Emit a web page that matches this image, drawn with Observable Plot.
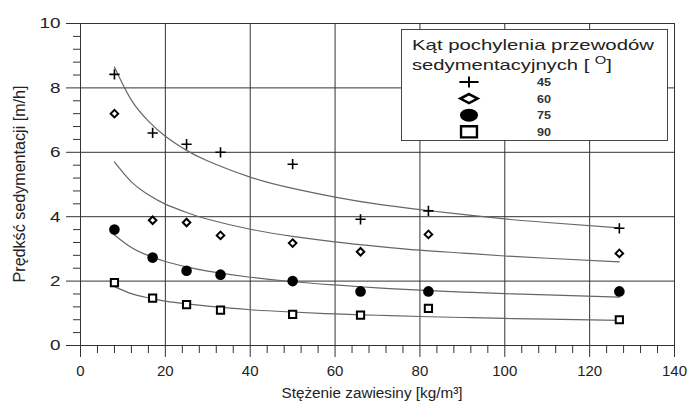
<!DOCTYPE html>
<html>
<head>
<meta charset="utf-8">
<script src="https://cdn.jsdelivr.net/npm/d3@7"></script>
<script src="https://cdn.jsdelivr.net/npm/@observablehq/plot@0.6"></script>
<style>
  html, body { margin: 0; padding: 0; background: #fff; }
  #chart { width: 688px; height: 403px; }
  svg { font-family: "Liberation Sans", Arial, sans-serif; }
</style>
</head>
<body>
<div id="chart"></div>
<script>
// Concentration of suspension [kg/m3]
const concentrations = [8, 17, 25, 33, 50, 66, 82, 127];
// Measured settling velocity [m/h] per inclination angle
const v45 = [8.42, 6.6, 6.25, 6.0, 5.63, 3.92, 4.18, 3.64];
const v60 = [7.2, 3.89, 3.82, 3.42, 3.18, 2.91, 3.45, 2.86];
const v75 = [3.6, 2.73, 2.32, 2.2, 2.0, 1.68, 1.68, 1.68];
const v90 = [1.95, 1.47, 1.27, 1.1, 0.97, 0.94, 1.15, 0.8];

// Trend curves
const curveX = [8, 12, 16, 20, 25, 30, 40, 50, 60, 70, 80, 90, 100, 110, 127];
const fit45 = [8.65, 7.62, 6.97, 6.5, 6.06, 5.73, 5.23, 4.88, 4.61, 4.39, 4.22, 4.07, 3.93, 3.82, 3.65];
const fit60 = [5.7, 5.08, 4.68, 4.39, 4.13, 3.92, 3.61, 3.39, 3.22, 3.08, 2.96, 2.87, 2.78, 2.71, 2.6];
const fit75 = [3.43, 3.04, 2.79, 2.61, 2.44, 2.31, 2.12, 1.98, 1.88, 1.79, 1.72, 1.66, 1.61, 1.57, 1.5];
const fit90 = [1.83, 1.61, 1.48, 1.38, 1.29, 1.22, 1.11, 1.04, 0.98, 0.94, 0.9, 0.87, 0.84, 0.82, 0.78];

const angles = ["45", "60", "75", "90"];
const xTicks = [0, 20, 40, 60, 80, 100, 120, 140];
const yTicks = [0, 2, 4, 6, 8, 10];
const xMinor = d3.range(0, 141, 4).filter(v => v % 20 !== 0);
const yMinor = d3.range(0, 25).map(i => +(i * 0.4).toFixed(1)).filter(v => Math.abs(v / 2 - Math.round(v / 2)) > 1e-6);

const seriesVals = [v45, v60, v75, v90];
const fits = [fit45, fit60, fit75, fit90];
const points = angles.flatMap((a, k) => concentrations.map((c, i) => ({angle: a, x: c, y: seriesVals[k][i]})));
const curves = angles.flatMap((a, k) => curveX.map((c, i) => ({angle: a, x: c, y: fits[k][i]})));
const sel = a => d => d.angle === a;

const ink = "#222";
const plot = Plot.plot({
  width: 688,
  height: 403,
  marginLeft: 80,
  marginRight: 14,
  marginTop: 23,
  marginBottom: 58,
  style: {fontFamily: "Liberation Sans, Arial, sans-serif", color: ink, background: "#fff"},
  x: {domain: [0, 140], ticks: xTicks, label: null},
  y: {domain: [0, 10], ticks: yTicks, label: null},
  marks: [
    Plot.gridX(xTicks.filter(v => v > 0), {stroke: "#333", strokeOpacity: 1, strokeWidth: 1}),
    Plot.gridY(yTicks.filter(v => v > 0), {stroke: "#333", strokeOpacity: 1, strokeWidth: 1}),
    Plot.ruleX([0], {stroke: "#333"}),
    Plot.ruleY([0], {stroke: "#333"}),
    Plot.axisX(xMinor, {tickSize: 8, text: null, stroke: "#333", label: null}),
    Plot.axisY(yMinor, {tickSize: 7, text: null, stroke: "#333", label: null}),
    Plot.axisX(xTicks, {tickSize: 12, tickPadding: 8, fontSize: 15, stroke: "#333", fill: ink, label: null}),
    Plot.axisY(yTicks, {tickSize: 14, tickPadding: 6, fontSize: 15, stroke: "#333", fill: ink, label: null}),
    Plot.line(curves, {x: "x", y: "y", z: "angle", curve: "natural", stroke: "#666", strokeWidth: 1.2}),
    Plot.dot(points.filter(sel("45")), {x: "x", y: "y", symbol: "plus", r: 3.4, stroke: "#000", strokeWidth: 1.6}),
    Plot.dot(points.filter(sel("60")), {x: "x", y: "y", symbol: "diamond2", r: 3.4, stroke: "#000", strokeWidth: 2, fill: "#fff"}),
    Plot.dot(points.filter(sel("75")), {x: "x", y: "y", symbol: "circle", r: 5.3, fill: "#000", stroke: "none"}),
    Plot.dot(points.filter(sel("90")), {x: "x", y: "y", symbol: "square2", r: 4.6, stroke: "#000", strokeWidth: 2, fill: "#fff"})
  ]
});
document.getElementById("chart").appendChild(plot);

const svg = d3.select(plot);
// widen the y tick labels as in the reference
svg.selectAll('g[aria-label="y-axis tick label"] text').each(function () {
  const n = this.textContent.length;
  d3.select(this).attr("textLength", n * 10.5).attr("lengthAdjust", "spacingAndGlyphs");
});
// axis titles
svg.append("text")
  .attr("x", 372).attr("y", 398)
  .attr("text-anchor", "middle")
  .attr("font-size", 15.5).attr("fill", ink)
  .attr("textLength", 181).attr("lengthAdjust", "spacingAndGlyphs")
  .text("Stężenie zawiesiny [kg/m³]");
svg.append("text")
  .attr("transform", "translate(25,184) rotate(-90)")
  .attr("text-anchor", "middle")
  .attr("font-size", 16).attr("fill", ink)
  .attr("textLength", 197).attr("lengthAdjust", "spacingAndGlyphs")
  .text("Prędkść sedymentacji [m/h]");

// legend
const lg = svg.append("g").attr("text-anchor", "start");
lg.append("rect").attr("x", 401.5).attr("y", 29.5).attr("width", 266).attr("height", 111)
  .attr("fill", "#fff").attr("stroke", "#444").attr("stroke-width", 1);
lg.append("text").attr("x", 412).attr("y", 50).attr("font-size", 15).attr("fill", ink)
  .attr("textLength", 242).attr("lengthAdjust", "spacingAndGlyphs")
  .text("Kąt pochylenia przewodów");
lg.append("text").attr("x", 412).attr("y", 70).attr("font-size", 15).attr("fill", ink)
  .attr("textLength", 200).attr("lengthAdjust", "spacingAndGlyphs")
  .html("sedymentacyjnych [ <tspan dy='-6' font-size='11'>O</tspan><tspan dy='6'>]</tspan>");
const legSym = [
  {t: d3.symbolPlus, size: 42, sx: 1.73, fill: "none", stroke: "#000", sw: 2},
  {t: d3.symbolDiamond2, size: 52, sx: 1.9, fill: "#fff", stroke: "#000", sw: 2.6},
  {t: d3.symbolCircle, size: 133, sx: 1.38, fill: "#000", stroke: "none", sw: 0},
  {t: d3.symbolSquare2, size: 160, sx: 1.42, fill: "#fff", stroke: "#000", sw: 2.4}
];
angles.forEach((a, i) => {
  const y = 82 + i * 16.6;
  const s = legSym[i];
  lg.append("path").attr("transform", `translate(469,${y}) scale(${s.sx},1)`)
    .attr("d", d3.symbol(s.t, s.size)())
    .attr("vector-effect", "non-scaling-stroke")
    .attr("fill", s.fill).attr("stroke", s.stroke).attr("stroke-width", s.sw);
  lg.append("text").attr("x", 537).attr("y", y + 4).attr("font-size", 10).attr("font-weight", "bold")
    .attr("textLength", 14).attr("lengthAdjust", "spacingAndGlyphs").attr("fill", "#333").text(a);
});
</script>
</body>
</html>
